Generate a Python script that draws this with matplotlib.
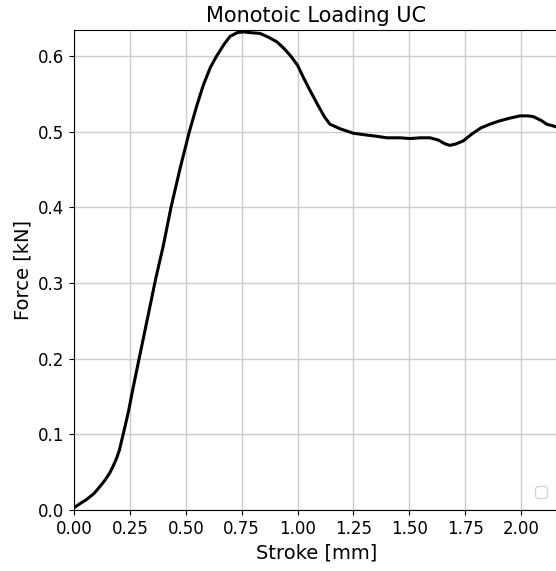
import matplotlib
matplotlib.use('Agg')
import matplotlib.pyplot as plt

# ============================= DATOS =================================
# Stroke [mm]
stroke = [0.000, 0.030, 0.057, 0.090, 0.116, 0.140, 0.160, 0.175, 0.190, 0.203,
          0.215, 0.228, 0.245, 0.260, 0.292, 0.330, 0.365, 0.400, 0.434, 0.475,
          0.516, 0.550, 0.579, 0.610, 0.638, 0.670, 0.698, 0.730, 0.757, 0.790,
          0.832, 0.870, 0.907, 0.940, 0.970, 1.000, 1.026, 1.050, 1.086, 1.120,
          1.145, 1.190, 1.250, 1.300, 1.354, 1.400, 1.459, 1.503, 1.550, 1.593,
          1.630, 1.660, 1.682, 1.710, 1.742, 1.780, 1.820, 1.861, 1.900, 1.950,
          1.996, 2.030, 2.055, 2.090, 2.115, 2.140, 2.175]
# Force [kN]
force = [0.003, 0.009, 0.014, 0.022, 0.031, 0.040, 0.049, 0.058, 0.068, 0.079,
         0.094, 0.110, 0.132, 0.155, 0.201, 0.255, 0.305, 0.350, 0.400, 0.452,
         0.500, 0.535, 0.562, 0.585, 0.600, 0.615, 0.626, 0.631, 0.632, 0.631,
         0.630, 0.625, 0.619, 0.610, 0.600, 0.588, 0.572, 0.558, 0.538, 0.520,
         0.510, 0.504, 0.498, 0.496, 0.494, 0.492, 0.492, 0.491, 0.492, 0.492,
         0.489, 0.484, 0.482, 0.484, 0.488, 0.497, 0.505, 0.510, 0.514, 0.518,
         0.521, 0.521, 0.520, 0.515, 0.510, 0.508, 0.505]

titulo = 'Monotoic Loading UC'

# ============================= GRAFICA =================================
fig = plt.figure(figsize=(5.56, 5.71), dpi=100)
ax = fig.add_axes([74/556, 61/571, 485/556, 480/571])

ax.plot(stroke, force, color='black', linewidth=2.2)
ax.grid(True, color='#cccccc', linewidth=1)
ax.set_axisbelow(True)

ax.set_xlim(0, 2.170)
ax.set_ylim(0, 0.6345)
ax.set_xticks([0, 0.25, 0.5, 0.75, 1.0, 1.25, 1.5, 1.75, 2.0])
ax.set_xticklabels(['0.00', '0.25', '0.50', '0.75', '1.00', '1.25', '1.50', '1.75', '2.00'])
ax.tick_params(labelsize=12)

ax.set_xlabel('Stroke [mm]', fontsize=14)
ax.set_ylabel('Force [kN]', fontsize=14)
ax.set_title(titulo, fontsize=15)

# leyenda vacia (como en el original)
ax.legend(handles=[], loc='lower right', borderaxespad=0.9)

fig.savefig('out.png', dpi=100)
